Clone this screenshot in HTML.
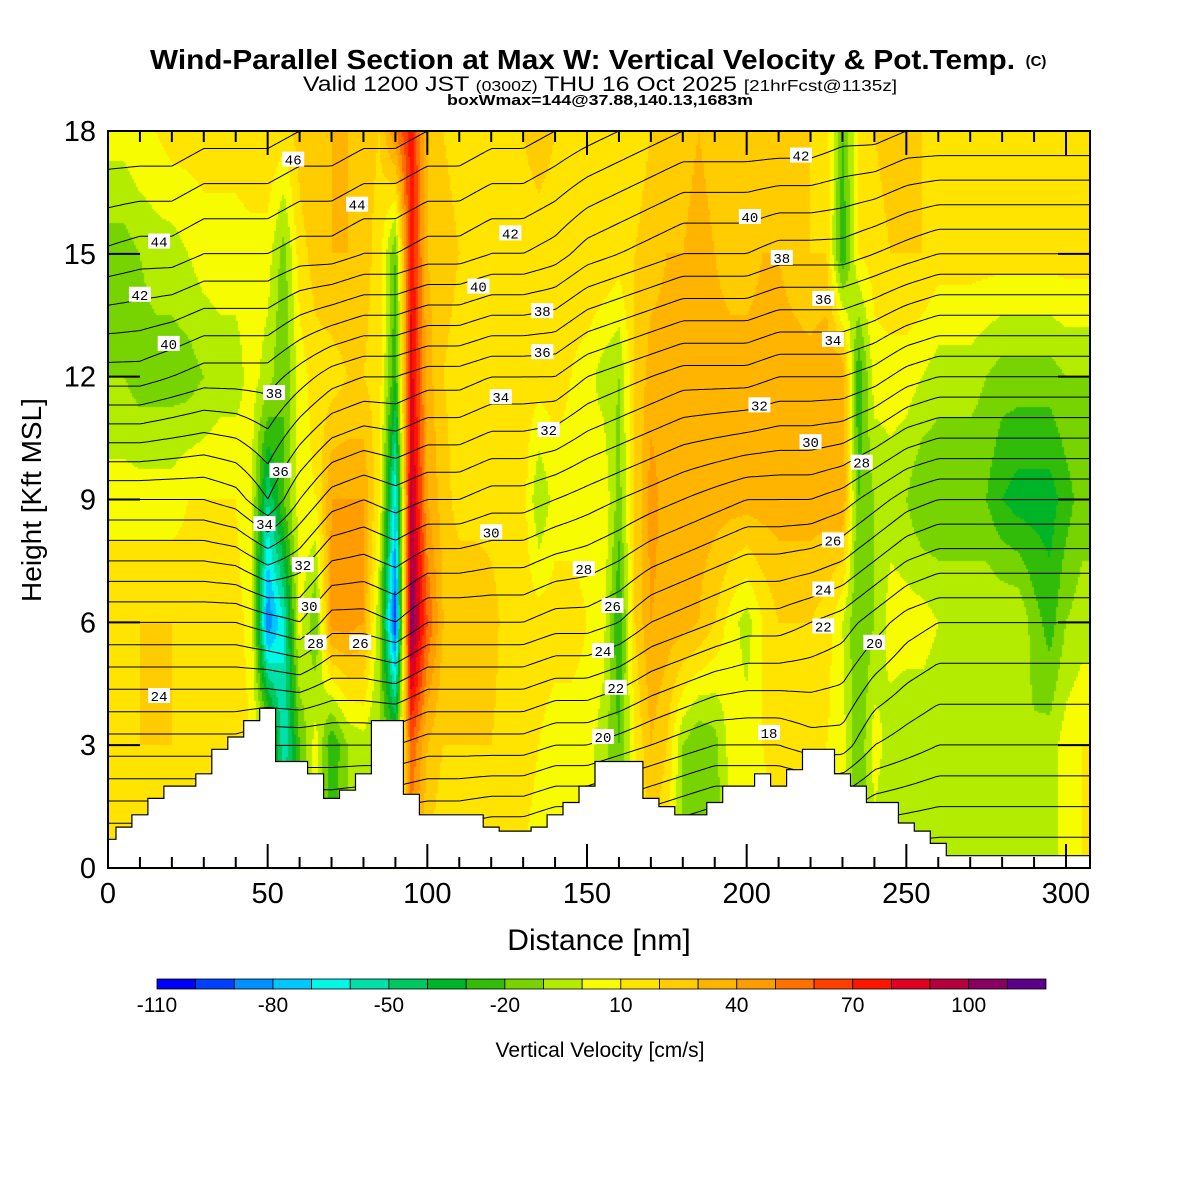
<!DOCTYPE html>
<html><head><meta charset="utf-8"><style>
body{margin:0;background:#fff;}
#wrap{position:relative;width:1200px;height:1200px;background:#fff;font-family:"Liberation Sans",sans-serif;overflow:hidden}
canvas{position:absolute;left:0;top:0}
svg{position:absolute;left:0;top:0}
</style></head><body>
<div id="wrap">
<canvas id="heat" width="1200" height="1200"></canvas>
<svg id="ov" width="1200" height="1200" xmlns="http://www.w3.org/2000/svg">
<text x="150" y="69" textLength="865" lengthAdjust="spacingAndGlyphs" font-size="28" font-weight="bold">Wind-Parallel Section at Max W: Vertical Velocity &amp; Pot.Temp.</text>
<text x="1036" y="66" text-anchor="middle" font-size="15" font-weight="bold">(C)</text>
<text x="303" y="91" textLength="594" lengthAdjust="spacingAndGlyphs" font-size="21">Valid 1200 JST <tspan font-size="15">(0300Z)</tspan> THU 16 Oct 2025 <tspan font-size="16">[21hrFcst@1135z]</tspan></text>
<text x="447" y="105" textLength="306" lengthAdjust="spacingAndGlyphs" font-size="15" font-weight="bold">boxWmax=144@37.88,140.13,1683m</text>
<text x="599" y="950" text-anchor="middle" font-size="30">Distance [nm]</text>
<text transform="translate(41,500) rotate(-90)" text-anchor="middle" font-size="28">Height [Kft MSL]</text>
<text x="600" y="1057" text-anchor="middle" font-size="21">Vertical Velocity [cm/s]</text>
<g id="g-contours"></g>
<g id="g-terrain"></g>
<g id="g-labels"></g>
<g id="g-axes"></g>
<g id="g-cbar"></g>
</svg>
</div>
<script>
// ---- data ----
const wX0 = 0, wDX = 5;           // column spacing nm
const wZ = [0,3,6,9,12,15,18];    // row heights kft
const w0  = [10,10,10,10,10,10,10,10,10,10, 0,-40,-20,0,-20,-10,0,-10,-10,40, 20,10,10,10,10,10,10,5,5,5, 5,-5,-20,5,20,10,-10,-20,-15,0, 0,5,10,10,10,5,5,-20,-5,-10, -10,-10,-10,-10,-10,-10,-10,-10,-10,-5, 5,10,10];
const w3  = [15,15,20,20,20,20,15,15,15,10, 0,-60,-20,5,-30,-10,-5,-10,-20,60, 30,20,20,20,20,15,15,10,5,5, 5,-5,-20,10,30,20,-10,-20,-15,5, 5,10,15,15,15,10,5,-20,5,-5, -8,-8,-8,-8,-8,-8,-8,-8,-8,-5, 5,10,10];
const w6  = [20,20,20,20,20,15,15,15,15,5, -90,-60,5,-20,45,45,40,-10,-100,110, 60,30,30,30,25,15,15,15,15,15, 10,5,-30,20,40,35,35,30,20,5, -5,10,20,20,20,15,0,-20,-10,5, 5,5,0,0,0,0,0,0,-15,-25, -10,-5,-5];
const w9  = [5,5,5,5,5,10,10,10,10,0, -50,-20,5,10,40,40,40,10,-70,95, 40,25,15,15,15,15,15,-10,5,5, 5,10,-15,20,45,35,35,35,35,35, 35,35,35,35,35,35,40,-20,-10,-5, -10,-20,-20,-20,-20,-20,-30,-35,-35,-35, -25,-15,-15];
const w12 = [-10,-10,-15,-15,-15,-15,-10,-5,-5,5, -5,-20,5,15,15,20,20,15,-30,85, 35,20,15,15,15,15,15,15,15,10, 5,-5,-10,20,35,35,35,35,35,35, 35,35,35,35,35,40,40,-30,5,5, 5,0,-5,-5,-5,-10,-15,-15,-15,-15, -10,-10,-10];
const w15 = [-15,-15,-10,-5,-5,0,5,5,5,5, 5,-15,15,25,30,30,25,15,-20,80, 30,25,20,20,15,15,15,15,15,15, 20,20,15,20,25,30,30,35,30,25, 25,30,30,25,20,20,-30,10,15,20, 20,20,15,15,15,15,15,15,15,15, 15,15,15];
const w18 = [5,5,10,10,15,15,15,15,15,20, 20,15,25,30,30,30,25,20,50,75, 30,20,15,15,15,20,20,25,20,20, 15,15,15,15,20,25,25,30,25,20, 20,25,25,20,20,15,-20,10,20,25, 25,20,20,15,15,15,20,15,15,15, 15,15,15];
const wRows = [w0,w3,w6,w9,w12,w15,w18];

// potential temperature per 10-nm column at heights 0,3,...,18 kft
const thDX = 10;
const th0  = [16,16,16,16,16,16,15.5,15.5,15,15,15,15,14.5,14.5,14,14,13.5,13,12.5,12,12,12,12,12,12,12,12,12,12,12,12,12];
const th3  = [21.5,21.5,21.5,21.5,21.5,21,21,21,21,21,20.5,20.5,20.5,20.5,20,20,19.5,19,18.5,18,18,18,18.5,18.5,17,16.5,16,16,16,16,16,16];
const th6  = [27,27,27,27,27,27.5,28,26.5,26.5,27,26,26,26,26,25.5,25.5,25,24,23.5,23,22.5,22.5,22,21.5,20.5,19.5,19,19,19,19,19,19];
const th9  = [33,33,33,33,33.5,35,33,31.5,31,31.5,31,31,30.5,30.5,30,29.5,29,28.5,28,27.5,27,27,27,26.5,25.5,24.5,24,24,24,24,24,24];
const th12 = [39.5,39.5,39,38.5,38.5,38.5,37.5,36.5,36,36,35.5,35.5,35,35,35,34,33.5,33,32.5,32.5,32.5,32,32,32,31.5,30.5,30,30,30,30,30,30];
const th15 = [43.8,43.5,43.5,43,43,43,42.5,42.5,42,42,41.5,41.5,41,41,40.5,39.5,39,38.5,38,38,38,37.5,37.5,37.5,37,36.5,36,36,36,36,36,36];
const th18 = [47,47,47,46.5,46.5,46.5,46,46,45.5,45.5,45,45,44.5,44.5,44,43.5,43,42.5,42,42,42,42,42,41.5,41.5,41,41,41,41,41,41,41];
const thRows = [th0,th3,th6,th9,th12,th15,th18];

// terrain height (kft) per 5 nm
const terrain = [0.7,1.0,1.3,1.7,2.0,2.0,2.3,2.9,3.2,3.6, 3.9,2.6,2.6,2.3,1.7,1.9,2.3,3.6,3.6,1.8, 1.3,1.3,1.3,1.3,1.0,0.9,0.9,1.0,1.3,1.6, 2.0,2.6,2.6,2.6,1.7,1.5,1.3,1.3,1.6,2.0, 2.0,2.3,2.0,2.4,2.9,2.9,2.3,2.0,1.6,1.6, 1.1,0.9,0.6,0.3,0.3,0.3,0.3,0.3,0.3,0.3, 0.3,0.3];

const cbLevels = [-110,-100,-90,-80,-70,-60,-50,-40,-30,-20,-10,0,10,20,30,40,50,60,70,80,90,100,110,120];
const cbTickVals = [-110,-80,-50,-20,10,40,70,100];
const cbColors = ['#0000f8','#0040ff','#0090ff','#00c8ff','#00f8e8','#00e0a8','#00c860','#00b428','#30bc08','#78d400','#b4ec00','#f8fc00','#ffe400','#ffcc00','#ffb400','#ff9c00','#ff7000','#ff4000','#ff1400','#e00020','#b4003c','#880060','#5c0088'];
const xTicks = [0,50,100,150,200,250,300];
const yTicks = [0,3,6,9,12,15,18];
const cLabels = [
 ['46',58,17.3],['44',78,16.2],['44',16,15.3],['42',10,14.0],['40',19,12.8],['38',52,11.6],['36',54,9.7],['34',49,8.4],
 ['32',61,7.4],['30',63,6.4],['28',65,5.5],['26',79,5.5],['24',16,4.2],['42',126,15.5],['40',116,14.2],['38',136,13.6],
 ['36',136,12.6],['34',123,11.5],['32',138,10.7],['30',120,8.2],['28',149,7.3],['26',158,6.4],['24',155,5.3],['22',159,4.4],
 ['20',155,3.2],['18',207,3.3],['42',217,17.4],['40',201,15.9],['38',211,14.9],['36',224,13.9],['34',227,12.9],['32',204,11.3],
 ['30',220,10.4],['28',236,9.9],['26',227,8.0],['24',224,6.8],['22',224,5.9],['20',240,5.5]
];

// ---- scales ----
const PL=108, PR=1090, PT=131, PB=868;
const xs = x => PL + x*958/300;
const ys = z => PB - z*(PB-PT)/18;
const XMAX = (PR-PL)*300/958;
const NS='http://www.w3.org/2000/svg';
function mk(tag, attrs, parent){const e=document.createElementNS(NS,tag);for(const k in attrs)e.setAttribute(k,attrs[k]);parent.appendChild(e);return e;}

function gridVal(rows, dx, zs, x, z){
  const n=rows[0].length;
  let c=x/dx; if(c<0)c=0; if(c>n-1)c=n-1;
  const c0=Math.min(Math.floor(c),n-2), fc=c-c0;
  let r=z/3; if(r<0)r=0; if(r>zs.length-1)r=zs.length-1;
  const r0=Math.min(Math.floor(r),zs.length-2), fr=r-r0;
  const a=rows[r0][c0]*(1-fc)+rows[r0][c0+1]*fc;
  const b=rows[r0+1][c0]*(1-fc)+rows[r0+1][c0+1]*fc;
  return a*(1-fr)+b*fr;
}
function colorFor(v){
  let i=Math.floor((v-cbLevels[0])/10);
  if(i<0)i=0; if(i>cbColors.length-1)i=cbColors.length-1;
  return cbColors[i];
}

// ---- heatmap ----
const ctx=document.getElementById('heat').getContext('2d');
const S=2;
for(let py=PT;py<PB;py+=S){
  const z=(PB-(py+S/2))*18/(PB-PT);
  for(let px=PL;px<PR;px+=S){
    const x=(px+S/2-PL)*300/958;
    ctx.fillStyle=colorFor(gridVal(wRows,wDX,wZ,x,z));
    ctx.fillRect(px,py,S,S);
  }
}

// ---- contours (marching squares) ----
const gC=document.getElementById('g-contours');
const G=4;
const nx=Math.ceil((PR-PL)/G)+1, ny=Math.ceil((PB-PT)/G)+1;
const T=[];
for(let j=0;j<ny;j++){T.push([]);const py=Math.min(PT+j*G,PB);const z=(PB-py)*18/(PB-PT);
  for(let i=0;i<nx;i++){const px=Math.min(PL+i*G,PR);T[j].push(gridVal(thRows,thDX,wZ,(px-PL)*300/958,z));}}
for(let L=12;L<=47;L++){
  let d='';
  for(let j=0;j<ny-1;j++)for(let i=0;i<nx-1;i++){
    const x0=Math.min(PL+i*G,PR),x1=Math.min(PL+(i+1)*G,PR),y0=Math.min(PT+j*G,PB),y1=Math.min(PT+(j+1)*G,PB);
    const a=T[j][i],b=T[j][i+1],c=T[j+1][i+1],e=T[j+1][i];
    const pts=[];
    if((a<L)!==(b<L))pts.push([x0+(L-a)/(b-a)*(x1-x0),y0]);
    if((b<L)!==(c<L))pts.push([x1,y0+(L-b)/(c-b)*(y1-y0)]);
    if((e<L)!==(c<L))pts.push([x0+(L-e)/(c-e)*(x1-x0),y1]);
    if((a<L)!==(e<L))pts.push([x0,y0+(L-a)/(e-a)*(y1-y0)]);
    for(let k=0;k+1<pts.length;k+=2)d+='M'+pts[k][0].toFixed(1)+' '+pts[k][1].toFixed(1)+'L'+pts[k+1][0].toFixed(1)+' '+pts[k+1][1].toFixed(1);
  }
  if(d){const p=mk('path',{d:d,stroke:'#000','stroke-width':1,fill:'none'},gC);
    
    }
}

// ---- terrain ----
const gT=document.getElementById('g-terrain');
let td='M'+xs(0)+' '+PB;
terrain.forEach((h,i)=>{const xa=Math.max(0,i*wDX-2.5), xb=Math.min(XMAX,i*wDX+2.5);
  td+=' L'+xs(xa).toFixed(1)+' '+ys(h).toFixed(1)+' L'+xs(xb).toFixed(1)+' '+ys(h).toFixed(1);});
td+=' L'+PR+' '+PB+' Z';
const tp=mk('path',{d:td,fill:'#fff',stroke:'#000','stroke-width':1.2},gT);



// ---- contour labels ----
const gL=document.getElementById('g-labels');
cLabels.forEach(l=>{
  const cx=xs(l[1]), cy=ys(l[2]);
  const r=mk('rect',{x:cx-11,y:cy-8,width:22,height:15,fill:'#fff'},gL);
  
  
  const t=mk('text',{x:cx,y:cy+5,'text-anchor':'middle','font-size':14,'font-family':'Liberation Mono, monospace'},gL);
  t.textContent=l[0];
  
  
});

// ---- axes ----
const gA=document.getElementById('g-axes');
const fr=mk('rect',{x:PL,y:PT,width:PR-PL,height:PB-PT,fill:'none',stroke:'#000','stroke-width':2},gA);


for(let v=0;v<=300;v+=10){
  const len=(v%50===0)?24:11;
  const t1=mk('line',{x1:xs(v),x2:xs(v),y1:PB,y2:PB-len,stroke:'#000','stroke-width':2},gA);
  
  
  const t2=mk('line',{x1:xs(v),x2:xs(v),y1:PT,y2:PT+len,stroke:'#000','stroke-width':2},gA);
  
  
}
xTicks.forEach(v=>{const t=mk('text',{x:xs(v),y:903,'text-anchor':'middle','font-size':29},gA);t.textContent=v;
  
  });
for(let v=0;v<=18;v+=3){
  const len=32;
  const t1=mk('line',{x1:PL,x2:PL+len,y1:ys(v),y2:ys(v),stroke:'#000','stroke-width':2},gA);
  
  
  const t2=mk('line',{x1:PR,x2:PR-len,y1:ys(v),y2:ys(v),stroke:'#000','stroke-width':2},gA);
  
  
}
yTicks.forEach(v=>{const t=mk('text',{x:96,y:ys(v)+10,'text-anchor':'end','font-size':29},gA);t.textContent=v;
  
  });

// ---- colorbar ----
const gB=document.getElementById('g-cbar');
const CBL=157, CBR=1046, CBT=979, CBH=10;
const cbw=(CBR-CBL)/cbColors.length;
cbColors.forEach((c,i)=>{const r=mk('rect',{x:CBL+i*cbw,y:CBT,width:cbw,height:CBH,fill:c,stroke:'#000','stroke-width':0.8},gB);
  
  });
cbTickVals.forEach(v=>{const x=CBL+(v-cbLevels[0])/10*cbw;
  const t=mk('text',{x:x,y:1012,'text-anchor':'middle','font-size':21},gB);t.textContent=v;
  
  });
</script>
</body></html>
